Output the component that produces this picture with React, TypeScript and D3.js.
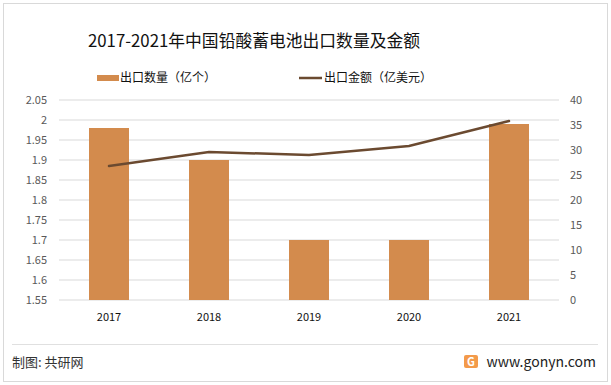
import React, { useEffect, useRef } from 'react';
import * as d3 from 'd3';

const years = ['2017', '2018', '2019', '2020', '2021'];
const exportVolume = [1.98, 1.9, 1.7, 1.7, 1.99];
const exportValue = [26.8, 29.6, 29.0, 30.8, 35.8];
const leftTicks = [1.55, 1.6, 1.65, 1.7, 1.75, 1.8, 1.85, 1.9, 1.95, 2, 2.05];
const rightTicks = [0, 5, 10, 15, 20, 25, 30, 35, 40];

const W = 611;
const H = 385;
const FONT = '"Microsoft YaHei", "Noto Sans CJK SC", "DejaVu Sans", sans-serif';
const BAR = '#d38b4d';
const LINE = '#6b4a30';

export default function App() {
    const ref = useRef<SVGSVGElement>(null);

    useEffect(() => {
        const svg = d3.select(ref.current);
        svg.selectAll('*').remove();

        const left = 59, right = 559, top = 100, bottom = 300;

        svg.append('rect')
            .attr('x', 3.5).attr('y', 3.5)
            .attr('width', W - 7).attr('height', H - 7)
            .attr('fill', '#fff').attr('stroke', '#d9d9d9');

        // title
        svg.append('text')
            .attr('x', 254).attr('y', 47)
            .attr('text-anchor', 'middle')
            .attr('font-family', FONT)
            .attr('font-size', 16.8)
            .attr('fill', '#111')
            .text('2017-2021年中国铅酸蓄电池出口数量及金额');

        const x = d3.scaleBand().domain(years).range([left, right])
            .paddingInner(0.6).paddingOuter(0.3);
        const yL = d3.scaleLinear().domain([1.55, 2.05]).range([bottom, top]);
        const yR = d3.scaleLinear().domain([0, 40]).range([bottom, top]);

        // grid
        svg.append('g')
            .selectAll('line')
            .data(leftTicks)
            .join('line')
                .attr('x1', left).attr('x2', right)
                .attr('y1', d => yL(d)).attr('y2', d => yL(d))
                .attr('stroke', '#d9d9d9').attr('stroke-width', 1);

        // left axis labels
        svg.append('g')
            .selectAll('text')
            .data(leftTicks)
            .join('text')
                .attr('x', 47).attr('y', d => yL(d) + 4)
                .attr('text-anchor', 'end')
                .attr('font-family', FONT).attr('font-size', 11)
                .attr('fill', '#595959')
                .text(d => d3.format('')(d));

        // right axis labels
        svg.append('g')
            .selectAll('text')
            .data(rightTicks)
            .join('text')
                .attr('x', 570).attr('y', d => yR(d) + 4)
                .attr('text-anchor', 'start')
                .attr('font-family', FONT).attr('font-size', 11)
                .attr('fill', '#595959')
                .text(d => d);

        // bars
        svg.append('g')
            .selectAll('rect')
            .data(exportVolume)
            .join('rect')
                .attr('x', (d, i) => x(years[i])!)
                .attr('width', x.bandwidth())
                .attr('y', d => yL(d))
                .attr('height', d => bottom - yL(d))
                .attr('fill', BAR);

        // line
        const line = d3.line<number>()
            .x((d, i) => x(years[i])! + x.bandwidth() / 2)
            .y(d => yR(d));
        svg.append('path')
            .datum(exportValue)
            .attr('d', line)
            .attr('fill', 'none')
            .attr('stroke', LINE)
            .attr('stroke-width', 2.5)
            .attr('stroke-linecap', 'round');

        // x labels
        svg.append('g')
            .selectAll('text')
            .data(years)
            .join('text')
                .attr('x', d => x(d)! + x.bandwidth() / 2)
                .attr('y', 321)
                .attr('text-anchor', 'middle')
                .attr('font-family', FONT).attr('font-size', 11)
                .attr('fill', '#111')
                .text(d => d);

        // legend
        const lg = svg.append('g').attr('font-family', FONT).attr('font-size', 12).attr('fill', '#111');
        lg.append('rect').attr('x', 97).attr('y', 75).attr('width', 22).attr('height', 6).attr('fill', BAR);
        lg.append('text').attr('x', 120).attr('y', 82).text('出口数量（亿个）');
        lg.append('line').attr('x1', 299).attr('x2', 322).attr('y1', 78).attr('y2', 78)
            .attr('stroke', LINE).attr('stroke-width', 2.5);
        lg.append('text').attr('x', 324).attr('y', 82).text('出口金额（亿美元）');

        // footer
        svg.append('line')
            .attr('x1', 12).attr('x2', 598).attr('y1', 344.5).attr('y2', 344.5)
            .attr('stroke', '#e0e0e0');
        svg.append('text')
            .attr('x', 12).attr('y', 367)
            .attr('font-family', FONT).attr('font-size', 13).attr('fill', '#333')
            .text('制图: 共研网');
        const logo = svg.append('g').attr('transform', 'translate(464,355)');
        logo.append('rect').attr('width', 14).attr('height', 13).attr('rx', 2).attr('fill', '#f39a4a');
        logo.append('text').attr('x', 7).attr('y', 11).attr('text-anchor', 'middle')
            .attr('font-family', FONT).attr('font-size', 11).attr('font-weight', 'bold')
            .attr('fill', '#fff').text('G');
        svg.append('text')
            .attr('x', 596).attr('y', 367)
            .attr('text-anchor', 'end')
            .attr('font-family', FONT).attr('font-size', 14).attr('fill', '#222')
            .text('www.gonyn.com');
    }, []);

    return (
        <svg ref={ref} width={W} height={H} style={{ position: 'absolute', left: 0, top: 0 }} />
    );
}
